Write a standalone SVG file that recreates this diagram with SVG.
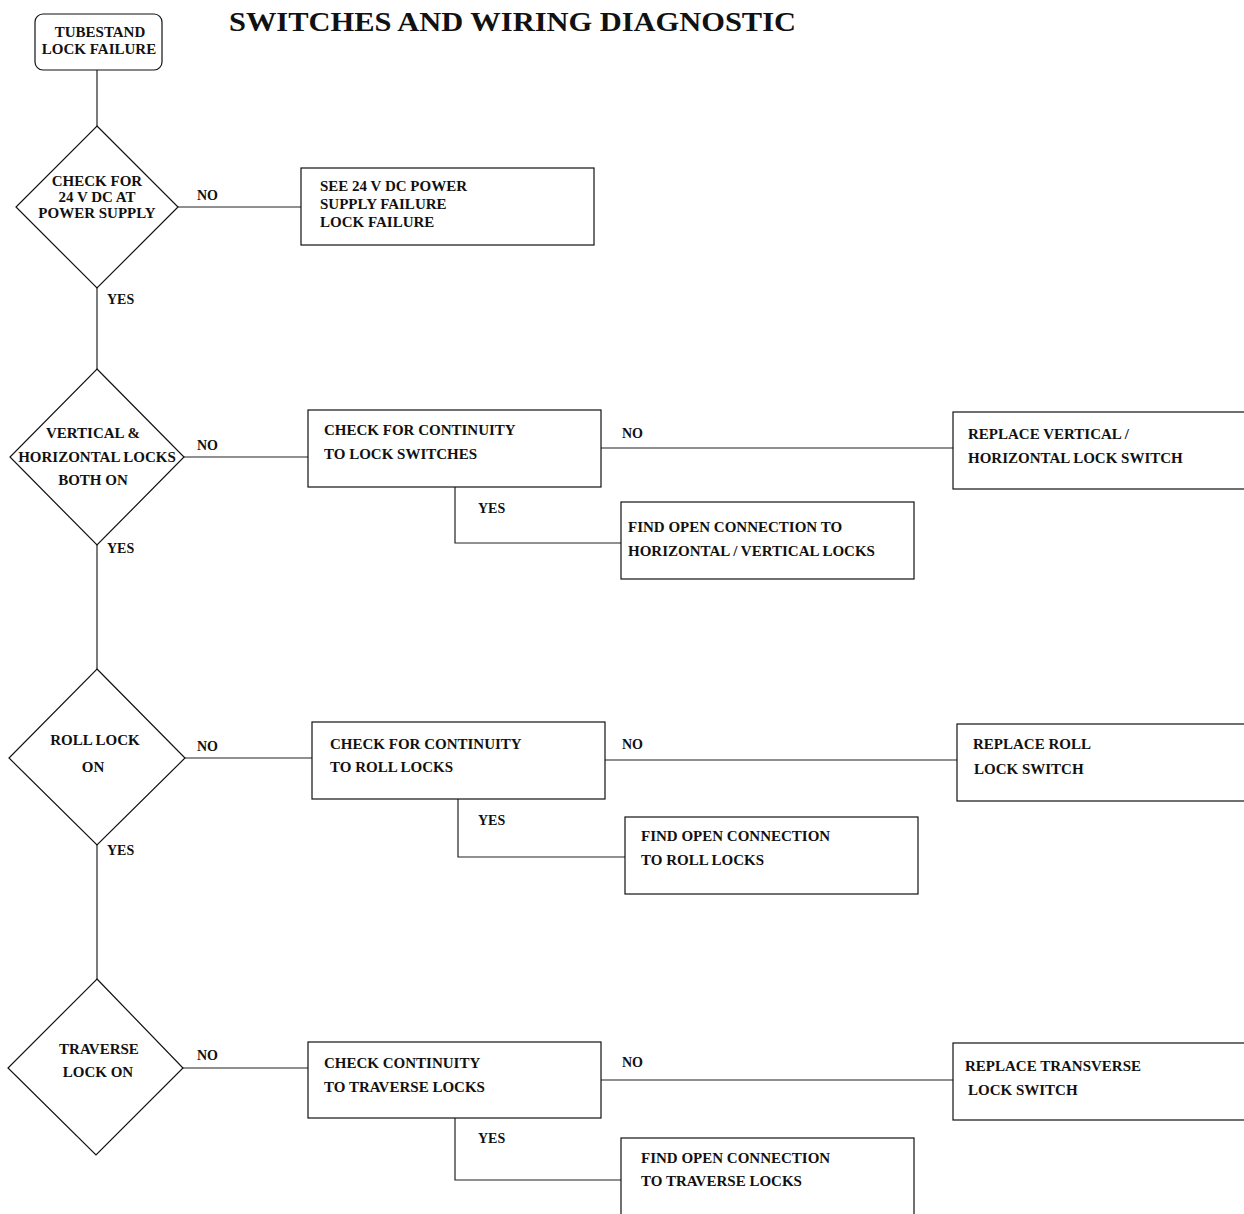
<svg xmlns="http://www.w3.org/2000/svg" width="1244" height="1214" viewBox="0 0 1244 1214">
<style>
.s{fill:#fff;stroke:#111;stroke-width:1.2}
.c{fill:none;stroke:#222;stroke-width:1.2}
text{font-family:"Liberation Serif","Times New Roman",serif;font-weight:bold;fill:#111;font-size:15px}
.m{text-anchor:middle}
.l{font-size:14px}
.t{font-size:28px}
</style>
<rect width="1244" height="1214" fill="#fff"/>
<text id="title" x="229" y="31" class="t" textLength="567" lengthAdjust="spacingAndGlyphs">SWITCHES AND WIRING DIAGNOSTIC</text>
<g id="connectors">
<path class="c" d="M97 70V126"/>
<path class="c" d="M178 207H301"/>
<path class="c" d="M97 288V370"/>
<path class="c" d="M184 457H308"/>
<path class="c" d="M601 448H953"/>
<path class="c" d="M455 487V543H621"/>
<path class="c" d="M97 545V669"/>
<path class="c" d="M185 758H312"/>
<path class="c" d="M605 760H957"/>
<path class="c" d="M458 799V857H625"/>
<path class="c" d="M97 845V979"/>
<path class="c" d="M183 1068H308"/>
<path class="c" d="M601 1080H953"/>
<path class="c" d="M455 1118V1180H621"/>
<text x="197" y="200" class="l">NO</text>
<text x="107" y="304" class="l">YES</text>
<text x="197" y="450" class="l">NO</text>
<text x="622" y="438" class="l">NO</text>
<text x="478" y="513" class="l">YES</text>
<text x="107" y="553" class="l">YES</text>
<text x="197" y="751" class="l">NO</text>
<text x="622" y="749" class="l">NO</text>
<text x="478" y="825" class="l">YES</text>
<text x="107" y="855" class="l">YES</text>
<text x="197" y="1060" class="l">NO</text>
<text x="622" y="1067" class="l">NO</text>
<text x="478" y="1143" class="l">YES</text>
</g>
<g id="start">
<rect class="s" x="35" y="14" width="127" height="56" rx="8"/>
<text x="100" y="37" class="m">TUBESTAND</text>
<text x="99" y="54" class="m">LOCK FAILURE</text>
</g>
<g id="d1">
<path class="s" d="M97 126L178 207L97 288L16 207Z"/>
<text x="97" y="186" class="m">CHECK FOR</text>
<text x="97" y="202" class="m">24 V DC AT</text>
<text x="97" y="218" class="m">POWER SUPPLY</text>
</g>
<g id="b1">
<rect class="s" x="301" y="168" width="293" height="77"/>
<text x="320" y="191">SEE 24 V DC POWER</text>
<text x="320" y="209">SUPPLY FAILURE</text>
<text x="320" y="227">LOCK FAILURE</text>
</g>
<g id="d2">
<path class="s" d="M97 369L184 457L97 545L10 457Z"/>
<text x="93" y="438" class="m">VERTICAL &amp;</text>
<text x="97" y="462" class="m">HORIZONTAL LOCKS</text>
<text x="93" y="485" class="m">BOTH ON</text>
</g>
<g id="b2">
<rect class="s" x="308" y="410" width="293" height="77"/>
<text x="324" y="435">CHECK FOR CONTINUITY</text>
<text x="324" y="459">TO LOCK SWITCHES</text>
</g>
<g id="b3">
<rect class="s" x="953" y="412" width="300" height="77"/>
<text x="968" y="439">REPLACE VERTICAL /</text>
<text x="968" y="463">HORIZONTAL LOCK SWITCH</text>
</g>
<g id="b4">
<rect class="s" x="621" y="502" width="293" height="77"/>
<text x="628" y="532">FIND OPEN CONNECTION TO</text>
<text x="628" y="556">HORIZONTAL / VERTICAL LOCKS</text>
</g>
<g id="d3">
<path class="s" d="M97 669L185 758L97 845L9 758Z"/>
<text x="95" y="745" class="m">ROLL LOCK</text>
<text x="93" y="772" class="m">ON</text>
</g>
<g id="b5">
<rect class="s" x="312" y="722" width="293" height="77"/>
<text x="330" y="749">CHECK FOR CONTINUITY</text>
<text x="330" y="772">TO ROLL LOCKS</text>
</g>
<g id="b6">
<rect class="s" x="957" y="724" width="300" height="77"/>
<text x="973" y="749">REPLACE ROLL</text>
<text x="974" y="774">LOCK SWITCH</text>
</g>
<g id="b7">
<rect class="s" x="625" y="817" width="293" height="77"/>
<text x="641" y="841">FIND OPEN CONNECTION</text>
<text x="641" y="865">TO ROLL LOCKS</text>
</g>
<g id="d4">
<path class="s" d="M97 979L183 1068L96 1155L8 1068Z"/>
<text x="99" y="1054" class="m">TRAVERSE</text>
<text x="98" y="1077" class="m">LOCK ON</text>
</g>
<g id="b8">
<rect class="s" x="308" y="1042" width="293" height="76"/>
<text x="324" y="1068">CHECK CONTINUITY</text>
<text x="324" y="1092">TO TRAVERSE LOCKS</text>
</g>
<g id="b9">
<rect class="s" x="953" y="1043" width="300" height="77"/>
<text x="965" y="1071">REPLACE TRANSVERSE</text>
<text x="968" y="1095">LOCK SWITCH</text>
</g>
<g id="b10">
<rect class="s" x="621" y="1138" width="293" height="90"/>
<text x="641" y="1163">FIND OPEN CONNECTION</text>
<text x="641" y="1186">TO TRAVERSE LOCKS</text>
</g>
</svg>
